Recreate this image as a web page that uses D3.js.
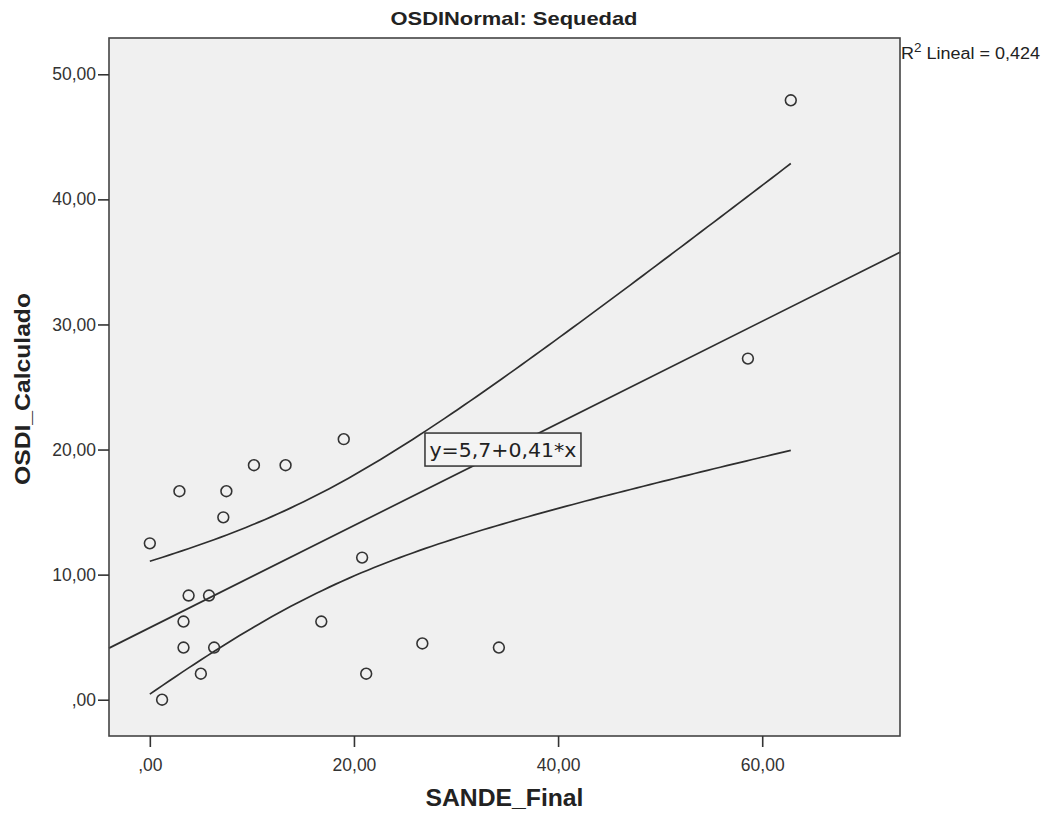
<!DOCTYPE html>
<html>
<head>
<meta charset="utf-8">
<script src="https://cdn.jsdelivr.net/npm/d3@7"></script>
<style>
  html, body { margin: 0; padding: 0; background: #ffffff; }
  svg { display: block; }
</style>
</head>
<body>
<svg id="chart" width="1054" height="814"></svg>
<script>
// ---- data ----
const sandeFinal = [0, 1.2, 2.9, 3.3, 3.3, 3.8, 5.0, 5.8, 6.3, 7.2, 7.5, 10.2, 13.3, 16.8, 19.0, 20.8, 21.2, 26.7, 34.2, 58.6, 62.8];
const osdiCalculado = [12.5, 0, 16.67, 6.25, 4.17, 8.33, 2.08, 8.33, 4.17, 14.58, 16.67, 18.75, 18.75, 6.25, 20.83, 11.36, 2.08, 4.5, 4.17, 27.27, 47.92];
const xTicks = [0, 20, 40, 60];
const yTicks = [0, 10, 20, 30, 40, 50];
const titleText = "OSDINormal: Sequedad";
const xTitle = "SANDE_Final";
const yTitle = "OSDI_Calculado";
const equationText = "y=5,7+0,41*x";
const r2Label = ["R", "2", " Lineal = 0,424"];

// ---- layout ----
const svg = d3.select("#chart");
const L = 109, R = 900, T = 38, B = 736;
const x = d3.scaleLinear().domain([-4, 73.5]).range([L, R]);
const y = d3.scaleLinear().domain([-2.9, 52.9]).range([B, T]);
const fmt = v => d3.format(".2f")(v).replace(".", ",").replace(/^0,/, ",");
const font = "'Liberation Sans', Arial, Helvetica, sans-serif";

// plot background
svg.append("rect").attr("x", L).attr("y", T).attr("width", R - L).attr("height", B - T)
  .attr("fill", "#f0f0f0");

// ---- regression and 95% mean CI computed from data ----
const n = sandeFinal.length;
const mx = d3.mean(sandeFinal), my = d3.mean(osdiCalculado);
let sxx = 0, sxy = 0, syy = 0;
for (let i = 0; i < n; i++) {
  const dx = sandeFinal[i] - mx, dy = osdiCalculado[i] - my;
  sxx += dx * dx; sxy += dx * dy; syy += dy * dy;
}
const b1 = sxy / sxx, b0 = my - b1 * mx;
const s = Math.sqrt((syy - b1 * sxy) / (n - 2));
const tCrit = 2.093; // t(0.975, 19)
const xmin = d3.min(sandeFinal), xmax = d3.max(sandeFinal);
const bandX = d3.range(0, 101).map(i => xmin + (xmax - xmin) * i / 100);
const se = xv => s * Math.sqrt(1 / n + (xv - mx) * (xv - mx) / sxx);
const upper = bandX.map(xv => [xv, b0 + b1 * xv + tCrit * se(xv)]);
const lower = bandX.map(xv => [xv, b0 + b1 * xv - tCrit * se(xv)]);
const fitLine = [[x.domain()[0], b0 + b1 * x.domain()[0]], [x.domain()[1], b0 + b1 * x.domain()[1]]];

const line = d3.line().x(d => x(d[0])).y(d => y(d[1]));
const g = svg.append("g");
[fitLine, upper, lower].forEach(d => {
  g.append("path").datum(d).attr("d", line).attr("fill", "none")
    .attr("stroke", "#2e2e2e").attr("stroke-width", 1.7);
});

// points
g.selectAll("circle").data(sandeFinal.map((v, i) => [v, osdiCalculado[i]])).join("circle")
  .attr("cx", d => x(d[0])).attr("cy", d => y(d[1])).attr("r", 5.4)
  .attr("fill", "none").attr("stroke", "#333").attr("stroke-width", 1.6);

// equation box
const eqCx = x(34.6), eqCy = y(20.0);
const eqW = 156, eqH = 33;
svg.append("rect").attr("x", eqCx - eqW / 2).attr("y", eqCy - eqH / 2)
  .attr("width", eqW).attr("height", eqH).attr("fill", "#f4f4f4")
  .attr("stroke", "#333").attr("stroke-width", 1.5);
svg.append("text").attr("x", eqCx).attr("y", eqCy + 7).attr("text-anchor", "middle")
  .attr("font-family", "'DejaVu Sans', sans-serif").attr("font-size", 19).attr("fill", "#222")
  .attr("textLength", 147).attr("lengthAdjust", "spacingAndGlyphs")
  .text(equationText);

// frame
svg.append("rect").attr("x", L).attr("y", T).attr("width", R - L).attr("height", B - T)
  .attr("fill", "none").attr("stroke", "#444").attr("stroke-width", 1.6);

// axes
const xAxis = svg.append("g").attr("transform", `translate(0,${B})`)
  .call(d3.axisBottom(x).tickValues(xTicks).tickFormat(fmt).tickSize(11).tickPadding(12));
const yAxis = svg.append("g").attr("transform", `translate(${L},0)`)
  .call(d3.axisLeft(y).tickValues(yTicks).tickFormat(fmt).tickSize(11).tickPadding(2));
[xAxis, yAxis].forEach(a => {
  a.select(".domain").remove();
  a.selectAll(".tick line").attr("stroke", "#333").attr("stroke-width", 1.6);
  a.selectAll(".tick text").attr("font-family", font).attr("font-size", 17.5).attr("fill", "#333");
});

// titles
svg.append("text").attr("x", 514).attr("y", 25).attr("text-anchor", "middle")
  .attr("font-family", font).attr("font-weight", "bold").attr("font-size", 19).attr("fill", "#222")
  .attr("textLength", 247).attr("lengthAdjust", "spacingAndGlyphs")
  .text(titleText);
svg.append("text").attr("x", (L + R) / 2).attr("y", 806).attr("text-anchor", "middle")
  .attr("font-family", font).attr("font-weight", "bold").attr("font-size", 23).attr("fill", "#222")
  .attr("textLength", 158).attr("lengthAdjust", "spacingAndGlyphs")
  .text(xTitle);
svg.append("text").attr("transform", "translate(30,389) rotate(-90)").attr("text-anchor", "middle")
  .attr("font-family", font).attr("font-weight", "bold").attr("font-size", 22).attr("fill", "#222")
  .attr("textLength", 192).attr("lengthAdjust", "spacingAndGlyphs")
  .text(yTitle);

// R² label
const r2 = svg.append("text").attr("x", 901).attr("y", 59)
  .attr("font-family", font).attr("font-size", 16).attr("fill", "#222")
  .attr("textLength", 139).attr("lengthAdjust", "spacingAndGlyphs");
r2.append("tspan").text(r2Label[0]);
r2.append("tspan").attr("dy", -7).attr("font-size", 12).text(r2Label[1]);
r2.append("tspan").attr("dy", 7).text(r2Label[2]);
</script>
</body>
</html>
